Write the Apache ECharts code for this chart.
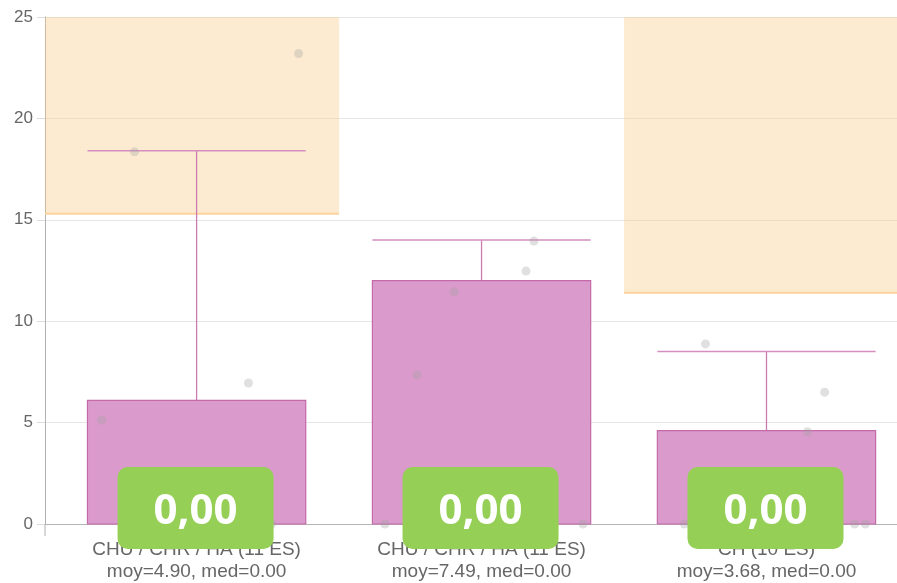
<!DOCTYPE html>
<html>
<head>
<meta charset="utf-8">
<script src="https://cdn.jsdelivr.net/npm/echarts@6/dist/echarts.min.js"></script>
<style>html,body{margin:0;padding:0;background:#fff}#c{width:897px;height:583px}</style>
</head>
<body>
<div id="c"></div>
<script>
const categories = ['CHU / CHR / HA (11 ES)', 'CHU / CHR / HA (11 ES)', 'CH (10 ES)'];
const means = ['4.90', '7.49', '3.68'];
const medians = ['0.00', '0.00', '0.00'];
const barValues = [6.1, 12.0, 4.6];
const whiskerTop = [18.4, 14.0, 8.5];
const thresholds = [15.3, null, 11.4];
const badgeTexts = ['0,00', '0,00', '0,00'];
// points: [category index, jitter offset, value]
const points1 = [[0, -0.333, 5.13], [0, -0.218, 18.35], [0, 0.182, 6.95], [0, 0.358, 23.2], [0, 0.263, 0]];
const points2 = [[1, -0.339, 0], [1, -0.226, 7.35], [1, -0.096, 11.45], [1, 0.156, 12.47], [1, 0.184, 13.95], [1, 0.356, 0]];
const points3 = [[2, -0.288, 0], [2, -0.214, 8.88], [2, 0.144, 4.55], [2, 0.204, 6.5], [2, 0.309, 0], [2, 0.347, 0]];

const X_MIN = -0.532, X_MAX = 2.458, HALF = 0.383;
const chart = echarts.init(document.getElementById('c'));
const idx = categories.map((c, i) => i);
const pts = points1.concat(points2, points3).map(p => [p[0] + p[1], p[2]]);

chart.setOption({
  animation: false,
  grid: { left: 45, right: 0, top: 17, bottom: 59 },
  xAxis: {
    type: 'value', min: X_MIN, max: X_MAX,
    axisLine: { show: true, onZero: false, lineStyle: { color: '#b5b5b5' } },
    axisTick: { show: false }, axisLabel: { show: false }, splitLine: { show: false }
  },
  yAxis: {
    type: 'value', min: 0, max: 25, interval: 5,
    axisLine: { show: true, onZero: false, lineStyle: { color: '#b0b0b0' } },
    axisTick: { show: true, length: 8, lineStyle: { color: '#dcdcdc' } },
    axisLabel: { color: '#666', fontSize: 17, margin: 12, fontFamily: 'Liberation Sans, Arial, sans-serif' },
    splitLine: { lineStyle: { color: '#e6e6e6' } }
  },
  series: [
    {
      type: 'custom', z: 1, clip: true,
      data: idx,
      renderItem: function (params, api) {
        const i = api.value(0);
        const t = thresholds[i];
        if (t == null) return null;
        const x0 = i === 0 ? X_MIN : i - 0.5;
        const x1 = i === categories.length - 1 ? X_MAX : i + 0.5;
        const p0 = api.coord([x0, 25]);
        const p1 = api.coord([x1, t]);
        return {
          type: 'group', children: [
            { type: 'rect', shape: { x: p0[0], y: p0[1], width: p1[0] - p0[0], height: p1[1] - p0[1] },
              style: { fill: 'rgba(250,205,140,0.4)' } },
            { type: 'line', shape: { x1: p0[0], y1: p1[1], x2: p1[0], y2: p1[1] },
              style: { stroke: '#fbd39b', lineWidth: 2 } }
          ]
        };
      },
      encode: { x: 0 }
    },
    {
      type: 'custom', z: 3,
      data: idx.map(i => [i, barValues[i], whiskerTop[i]]),
      renderItem: function (params, api) {
        const i = api.value(0);
        const b = api.value(1), w = api.value(2);
        const l = api.coord([i - HALF, b]);
        const r = api.coord([i + HALF, 0]);
        const c = api.coord([i, w]);
        const wl = api.coord([i - HALF, w]);
        const wr = api.coord([i + HALF, w]);
        return {
          type: 'group', children: [
            { type: 'line', shape: { x1: c[0], y1: c[1], x2: c[0], y2: l[1] },
              style: { stroke: '#c97cb2', lineWidth: 1.3 } },
            { type: 'line', shape: { x1: wl[0], y1: wl[1], x2: wr[0], y2: wr[1] },
              style: { stroke: '#d58fbf', lineWidth: 1.5 } },
            { type: 'rect', shape: { x: l[0], y: l[1], width: r[0] - l[0], height: r[1] - l[1] },
              style: { fill: '#da9bcc', stroke: '#c46aa9', lineWidth: 1.2 } }
          ]
        };
      },
      encode: { x: 0, y: 1 }
    },
    {
      type: 'scatter', z: 4,
      data: pts,
      symbolSize: 9,
      itemStyle: { color: 'rgba(160,160,160,0.4)' }
    },
    {
      type: 'custom', z: 5, clip: false,
      data: idx,
      renderItem: function (params, api) {
        const i = api.value(0);
        const p = api.coord([i, 0]);
        const origin = api.coord([X_MIN, 0]);
        const font = 'Liberation Sans, Arial, sans-serif';
        const children = [
          { type: 'text', style: { x: p[0], y: p[1] + 26, text: categories[i], fill: '#666', font: '19px ' + font, textAlign: 'center', textVerticalAlign: 'middle' } },
          { type: 'text', style: { x: p[0], y: p[1] + 48, text: 'moy=' + means[i] + ', med=' + medians[i], fill: '#666', font: '19px ' + font, textAlign: 'center', textVerticalAlign: 'middle' } },
          { type: 'rect', shape: { x: p[0] - 79, y: p[1] - 57, width: 156, height: 82, r: 10 },
            style: { fill: '#95cf55' } },
          { type: 'text', style: { x: p[0] - 1, y: p[1] - 12, text: badgeTexts[i], fill: '#fff', font: 'bold 42px "Open Sans", sans-serif', textAlign: 'center', textVerticalAlign: 'middle' } }
        ];
        if (i === 0) {
          children.unshift({ type: 'line', shape: { x1: origin[0], y1: origin[1], x2: origin[0], y2: origin[1] + 12 },
            style: { stroke: '#b0b0b0', lineWidth: 1 } });
        }
        return { type: 'group', children: children };
      },
      encode: { x: 0 }
    }
  ]
});
</script>
</body>
</html>
